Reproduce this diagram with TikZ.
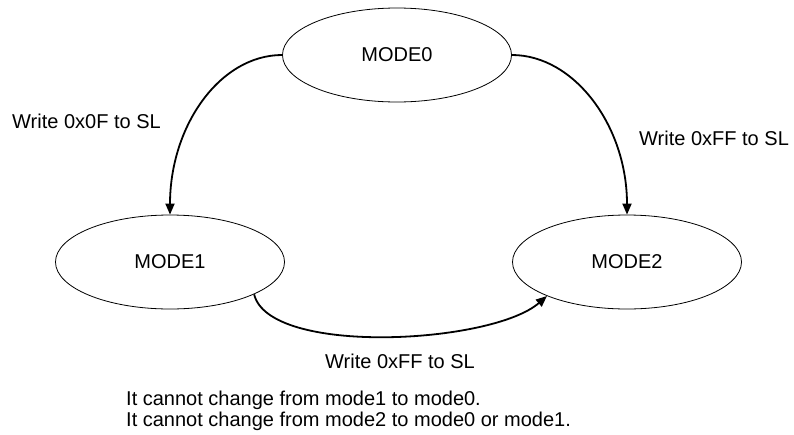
\documentclass[tikz,border=0pt]{standalone}
\usepackage{fontspec}
\setmainfont{Liberation Sans}
\usetikzlibrary{shapes.geometric,arrows.meta}
\tikzset{
  state/.style={draw, ellipse, line width=0.8pt, minimum width=229pt, minimum height=94pt, inner sep=0pt, font=\fontsize{20}{22}\selectfont},
  trans/.style={line width=1.8pt, -{Triangle[length=11pt,width=9pt]}},
  lbl/.style={inner sep=0pt, font=\fontsize{20}{21}\selectfont}
}
\begin{document}
\begin{tikzpicture}[x=1pt,y=-1pt]
\useasboundingbox (0,0) rectangle (794,434);
\node[state] (m0) at (397,55) {MODE0};
\node[state] (m1) at (170,262) {MODE1};
\node[state] (m2) at (627,262) {MODE2};
\draw[trans] (m0.west) .. controls +(-62,0) and +(0,-89) .. (m1.north);
\draw[trans] (m0.east) .. controls +(62,0) and +(0,-89) .. (m2.north);
\draw[trans] (m1.-21) .. controls +(15,62) and +(-55,48) .. (m2.-157);
\node[lbl, anchor=base west] (l1) at (12,128) {Write 0x0F to SL};
\node[lbl, anchor=base west] (l2) at (639,145) {Write 0xFF to SL};
\node[lbl, anchor=base] (l3) at (400,368) {Write 0xFF to SL};
\node[lbl, anchor=north west, align=left] (note) at (126,390.5) {It cannot change from mode1 to mode0.\\It cannot change from mode2 to mode0 or mode1.};
\end{tikzpicture}
\end{document}
